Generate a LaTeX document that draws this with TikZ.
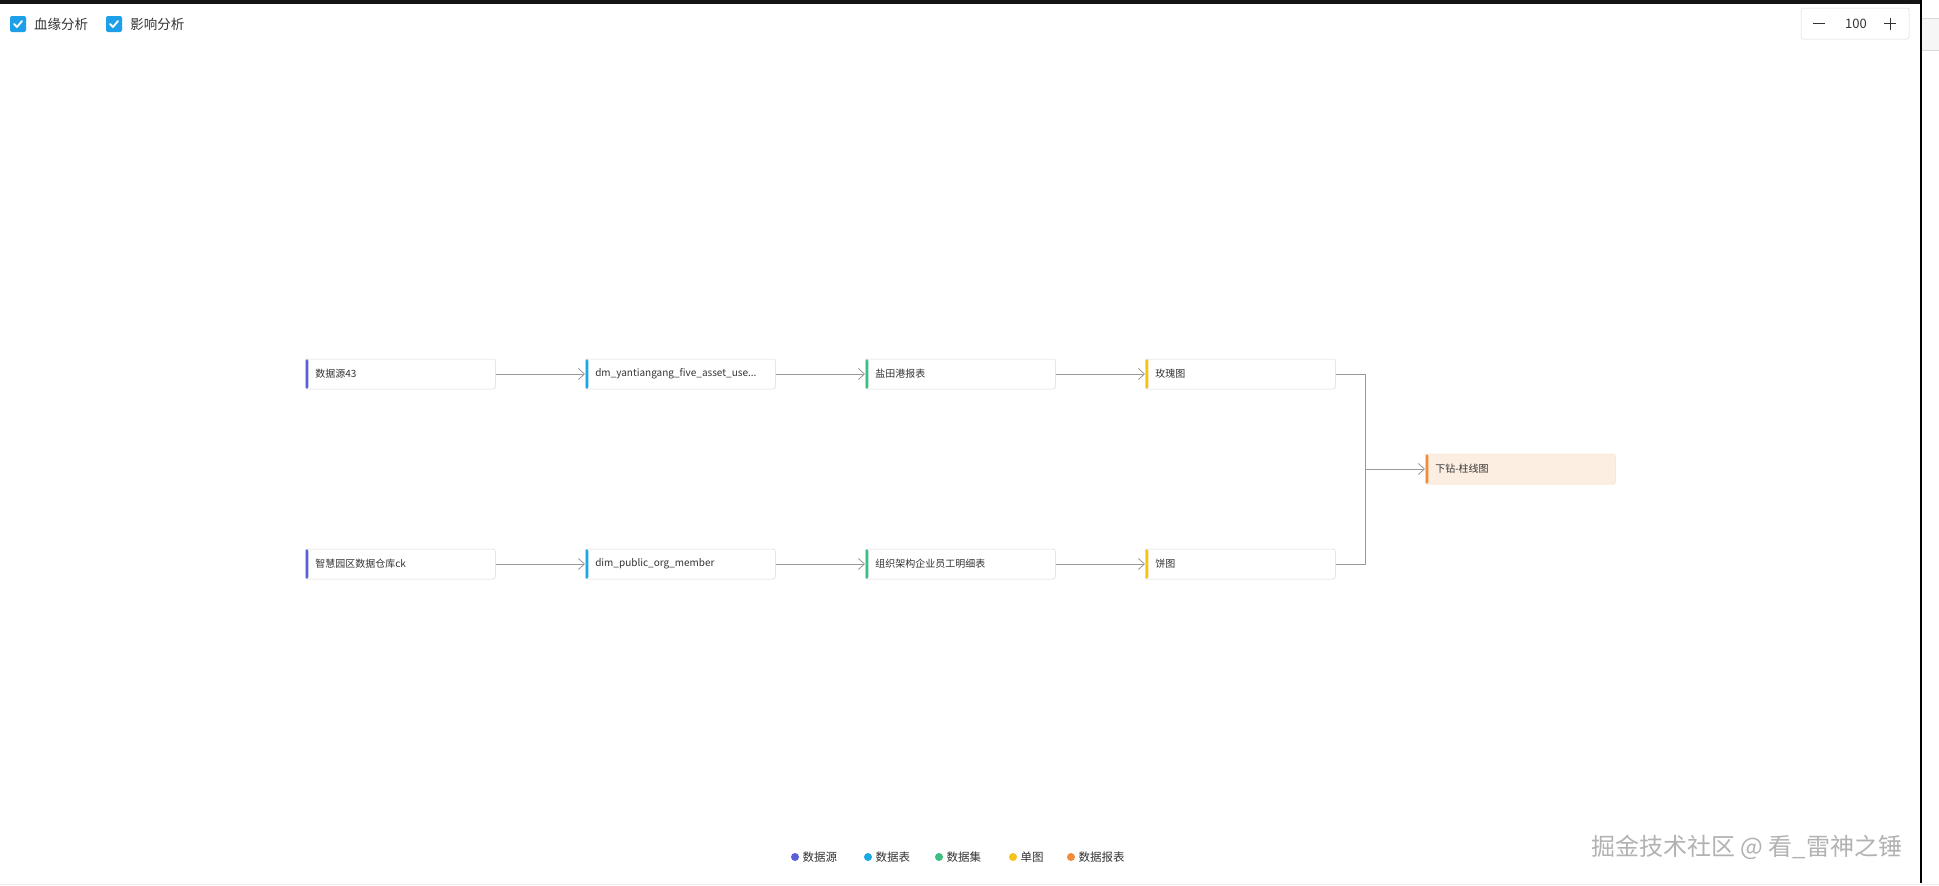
\documentclass[tikz,border=0pt]{standalone}
\usepackage{fontspec}
\setmainfont{Noto Sans CJK SC}
\usetikzlibrary{arrows.meta,positioning}
\definecolor{srccol}{HTML}{5B5FD9}
\definecolor{tblcol}{HTML}{1AA7E6}
\definecolor{setcol}{HTML}{3CBF80}
\definecolor{chartcol}{HTML}{F7C21A}
\definecolor{rptcol}{HTML}{F28C3B}
\definecolor{chkcol}{HTML}{1E9FEA}
\definecolor{txtcol}{HTML}{333333}
\tikzset{
  lnode/.style={draw=gray!30,rounded corners=2pt,fill=white,minimum width=190pt,minimum height=30pt,text width=170pt,inner xsep=10pt,inner ysep=0pt,align=left,anchor=west,text=txtcol,font=\fontsize{10}{12}\selectfont,path picture={\fill[#1] (path picture bounding box.south west) rectangle ([xshift=3pt]path picture bounding box.north west);}},
  flow/.style={draw=gray!80,line width=.8pt,-{Straight Barb[length=6pt,width=11pt]}},
  legdot/.style={circle,fill=#1,inner sep=0pt,minimum size=8pt},
  legtxt/.style={anchor=west,inner sep=0pt,text=txtcol,font=\fontsize{11.5}{13}\selectfont},
  chkbox/.style={fill=chkcol,rounded corners=2pt,minimum size=16pt,inner sep=0pt},
}
\begin{document}
\begin{tikzpicture}[x=1pt,y=-1pt,line width=.5pt]
\path[use as bounding box,fill=white] (0,0) rectangle (1939,886);
\fill[black!92] (0,0) rectangle (1920,4);
\fill[black] (1920,0) rectangle (1922,883);
\fill[gray!7] (1922,18) rectangle (1939,50);
\draw[gray!30] (1922,18) -- (1939,18) (1922,50) -- (1939,50);
\draw[gray!15] (0,884) -- (1939,884);
\node[chkbox] (cb1) at (18,24) {};
\draw[white,line width=1.8pt,line cap=round,line join=round] ([shift={(-4,0)}]cb1.center) -- ([shift={(-1,3)}]cb1.center) -- ([shift={(4,-3)}]cb1.center);
\node[anchor=west,inner sep=0pt,text=txtcol,font=\fontsize{13.5}{15}\selectfont] (cbl1) at (34,24) {血缘分析};
\node[chkbox] (cb2) at (114,24) {};
\draw[white,line width=1.8pt,line cap=round,line join=round] ([shift={(-4,0)}]cb2.center) -- ([shift={(-1,3)}]cb2.center) -- ([shift={(4,-3)}]cb2.center);
\node[anchor=west,inner sep=0pt,text=txtcol,font=\fontsize{13.5}{15}\selectfont] (cbl2) at (130,24) {影响分析};
\node[draw=gray!30,rounded corners=2pt,minimum width=108pt,minimum height=31pt] (zoombox) at (1855,23.5) {};
\node[text=txtcol,inner sep=0pt,font=\fontsize{13}{15}\selectfont] (zoomval) at (1856,23.5) {100};
\draw[txtcol,line width=1pt] (1813,23.5) -- (1825,23.5);
\draw[txtcol,line width=1pt] (1884,23.5) -- (1896,23.5) (1890,17.5) -- (1890,29.5);
\node[lnode=srccol] (src1) at (305,374) {数据源43};
\node[lnode=tblcol] (tbl1) at (585,374) {dm\_yantiangang\_five\_asset\_use...};
\node[lnode=setcol] (set1) at (865,374) {盐田港报表};
\node[lnode=chartcol] (chart1) at (1145,374) {玫瑰图};
\node[lnode=srccol] (src2) at (305,564) {智慧园区数据仓库ck};
\node[lnode=tblcol] (tbl2) at (585,564) {dim\_public\_org\_member};
\node[lnode=setcol] (set2) at (865,564) {组织架构企业员工明细表};
\node[lnode=chartcol] (chart2) at (1145,564) {饼图};
\node[lnode=rptcol,fill=rptcol!15,draw=rptcol!30] (rpt) at (1425,469) {下钻-柱线图};
\coordinate (join) at (1365,469);
\draw[flow] (src1) -- (tbl1);
\draw[flow] (tbl1) -- (set1);
\draw[flow] (set1) -- (chart1);
\draw[flow] (src2) -- (tbl2);
\draw[flow] (tbl2) -- (set2);
\draw[flow] (set2) -- (chart2);
\draw[draw=gray!80,line width=.8pt] (chart1.east) -| (join);
\draw[draw=gray!80,line width=.8pt] (chart2.east) -| (join);
\draw[flow] (join) -- (rpt);
\node[legdot=srccol] (lg1) at (795,857) {};
\node[legtxt,right=3pt of lg1] (lgt1) {数据源};
\node[legdot=tblcol] (lg2) at (868,857) {};
\node[legtxt,right=3pt of lg2] (lgt2) {数据表};
\node[legdot=setcol] (lg3) at (939,857) {};
\node[legtxt,right=3pt of lg3] (lgt3) {数据集};
\node[legdot=chartcol] (lg4) at (1013,857) {};
\node[legtxt,right=3pt of lg4] (lgt4) {单图};
\node[legdot=rptcol] (lg5) at (1071,857) {};
\node[legtxt,right=3pt of lg5] (lgt5) {数据报表};
\node[anchor=west,inner sep=0pt,text=gray!60,font=\fontsize{24}{26}\selectfont] (mark) at (1591,847) {掘金技术社区 @ 看\_雷神之锤};
\end{tikzpicture}
\end{document}
